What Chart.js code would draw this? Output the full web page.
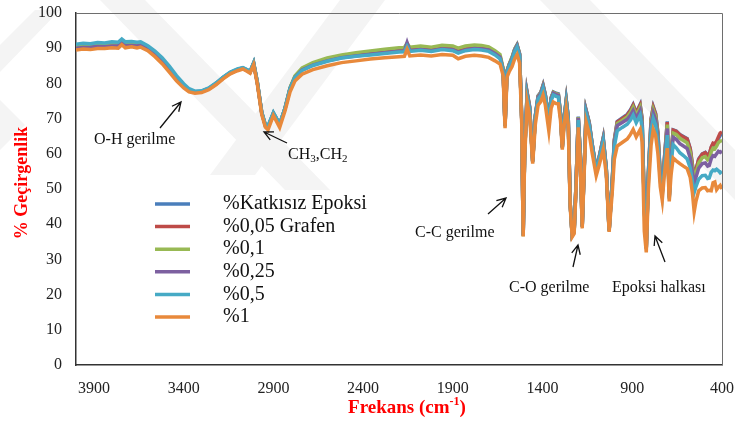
<!DOCTYPE html>
<html>
<head>
<meta charset="utf-8">
<script src="https://cdn.jsdelivr.net/npm/chart.js@4.4.1/dist/chart.umd.min.js"></script>
<style>
  body { margin: 0; background: #fff; }
</style>
</head>
<body>
<canvas id="ftir" width="735" height="423"></canvas>
<script>
// wavenumbers (cm-1)
var wavenumbers = [4000,3960,3920,3880,3840,3800,3765,3745,3725,3690,
  3660,3640,3600,3560,3520,3480,3440,3400,3370,3337,
  3300,3260,3220,3180,3140,3100,3070,3045,3030,3010,
  2990,2965,2945,2930,2900,2865,2835,2807,2780,2740,
  2680,2600,2520,2440,2360,2280,2200,2170,2155,2140,
  2080,2020,1960,1900,1870,1830,1780,1740,1700,1665,
  1637,1620,1609,1598,1586,1570,1555,1542,1528,1516,
  1508,1500,1486,1472,1455,1440,1425,1410,1397,1385,
  1365,1352,1340,1325,1312,1300,1290,1280,1268,1257,
  1246,1235,1224,1213,1201,1190,1179,1168,1157,1140,
  1124,1101,1085,1062,1045,1029,1012,1000,984,956,
  928,910,895,878,856,845,833,822,810,795,
  783,770,757,744,733,722,705,694,684,672,
  655,635,615,594,577,565,555,545,530,510,
  493,480,471,460,450,440,430,420,410,400];

var katkisiz = [90.6,90.9,90.8,91.1,91.0,91.3,91.2,92.1,91.3,91.5,
  91.2,91.4,90.3,88.7,86.8,84.4,81.8,79.5,78.2,77.6,
  77.8,78.6,80.0,81.7,83.1,84.0,84.4,83.8,83.3,85.8,
  80.5,71.8,68.2,67.8,71.6,68.4,73.0,78.6,81.8,83.9,
  85.3,86.5,87.4,87.9,88.4,88.8,89.2,89.3,91.2,89.4,
  89.7,89.4,89.9,89.7,89.0,89.6,90.0,89.9,89.6,88.6,
  87.6,84.0,68.0,83.5,85.3,87.3,89.8,91.0,88.5,70.0,
  37.0,60.0,77.5,73.5,58.0,71.0,76.5,77.5,79.6,77.0,
  70.0,76.0,77.6,77.2,77.0,71.5,62.0,70.0,75.4,70.5,
  46.0,37.0,38.0,52.0,70.6,60.0,39.5,56.0,72.4,69.0,
  63.0,55.5,59.0,64.6,56.0,38.3,52.0,64.0,69.2,70.2,
  71.2,72.5,74.0,71.7,74.0,70.0,45.0,33.5,55.0,70.0,
  73.4,71.5,66.0,54.0,49.2,58.0,69.2,48.0,60.0,66.8,
  66.5,65.5,64.9,64.3,61.5,57.0,53.4,55.5,58.5,60.0,
  60.4,59.6,59.8,61.8,62.8,62.5,63.3,64.3,65.2,65.6];

var grafen005 = [90.2,90.4,90.5,90.6,90.7,90.8,90.8,91.7,90.9,91.0,
  90.8,91.0,89.9,88.3,86.5,84.1,81.6,79.4,78.1,77.5,
  77.7,78.5,79.9,81.6,83.0,83.9,84.3,83.7,83.2,85.7,
  80.4,71.7,68.1,67.6,71.5,68.3,72.9,78.6,81.8,84.0,
  85.4,86.6,87.5,88.1,88.6,89.0,89.4,89.5,91.0,89.6,
  89.9,89.6,90.1,89.9,89.2,89.8,90.2,90.1,89.8,88.8,
  87.7,84.0,68.0,83.5,85.3,87.2,89.6,90.8,88.3,69.9,
  36.9,59.9,77.3,73.3,57.9,70.8,76.3,77.3,79.4,76.8,
  69.8,75.8,77.4,77.0,76.8,71.4,61.9,69.9,75.2,70.4,
  45.9,36.9,37.9,51.9,70.4,59.9,39.4,55.9,72.2,68.8,
  62.9,55.4,58.9,64.4,55.9,38.2,51.9,63.8,69.0,70.0,
  71.0,72.3,73.8,71.5,73.8,69.8,44.9,33.4,54.8,69.8,
  73.2,71.3,65.8,53.9,49.1,57.9,69.0,47.9,59.9,66.7,
  66.4,65.4,64.8,64.2,61.4,56.9,53.3,55.4,58.4,59.9,
  60.3,59.5,59.8,61.9,63.0,62.8,63.6,64.8,65.9,66.2];

var grafen01 = [90.4,90.7,90.6,90.9,90.8,91.0,91.0,91.9,91.1,91.2,
  91.0,91.2,90.1,88.5,86.6,84.2,81.7,79.4,78.1,77.5,
  77.7,78.5,79.9,81.6,83.0,83.9,84.3,83.7,83.2,85.7,
  80.4,71.7,68.1,67.6,71.5,68.3,73.0,78.8,82.1,84.4,
  85.9,87.2,88.1,88.7,89.2,89.7,90.1,90.2,91.4,90.3,
  90.6,90.3,90.8,90.6,90.0,90.6,90.9,90.8,90.4,89.3,
  88.2,84.3,68.1,83.7,85.5,87.5,89.8,90.9,88.4,70.0,
  36.6,59.8,77.2,73.2,57.9,70.8,76.3,77.3,79.3,76.8,
  69.8,75.8,77.4,77.0,76.8,71.4,61.9,69.9,75.2,70.4,
  45.9,36.9,37.9,51.9,70.4,59.9,39.4,55.9,72.2,68.8,
  62.9,55.4,58.9,64.3,55.9,38.2,51.8,63.5,68.6,69.5,
  70.5,71.7,73.2,70.9,73.2,69.3,44.8,33.3,54.5,69.2,
  72.5,70.6,65.2,53.6,48.9,57.5,68.3,47.7,59.4,65.9,
  65.5,64.4,63.8,63.1,60.4,56.1,52.6,54.6,57.4,58.9,
  59.2,58.3,58.6,60.6,61.6,61.4,62.2,63.2,63.6,63.7];

var grafen025 = [90.0,90.2,90.3,90.5,90.4,90.6,90.6,91.5,90.7,90.8,
  90.6,90.8,89.7,88.1,86.3,83.9,81.4,79.2,78.0,77.4,
  77.6,78.4,79.8,81.5,82.9,83.8,84.2,83.6,83.1,85.6,
  80.3,71.6,68.0,67.5,71.4,68.2,72.8,78.5,81.7,83.8,
  85.2,86.4,87.3,87.8,88.3,88.7,89.1,89.2,91.6,89.3,
  89.6,89.3,89.8,89.6,88.9,89.5,89.9,89.8,89.5,88.5,
  87.5,83.9,67.9,83.4,85.2,87.1,89.5,90.7,88.2,69.8,
  36.9,59.8,77.0,73.0,57.8,70.6,76.1,77.1,79.1,76.6,
  69.6,75.6,77.2,76.8,76.6,71.2,61.8,69.7,75.0,70.2,
  45.8,36.8,37.8,51.8,70.2,59.8,39.3,55.8,72.0,68.6,
  62.7,55.3,58.7,64.1,55.8,38.1,51.6,63.1,68.0,68.9,
  69.8,70.9,72.3,70.1,72.3,68.5,44.6,33.2,54.0,68.3,
  71.6,69.7,64.4,53.2,48.7,57.0,67.2,47.5,58.6,64.7,
  64.1,62.9,62.2,61.5,58.8,54.8,51.5,53.3,55.9,57.2,
  57.4,56.5,56.7,58.6,59.5,59.3,60.0,60.7,60.4,60.8];

var grafen05 = [91.1,91.4,91.3,91.6,91.5,91.8,91.7,92.6,91.8,91.9,
  91.7,91.8,90.7,89.2,87.3,84.9,82.2,79.9,78.5,77.8,
  77.9,78.7,80.1,81.8,83.2,84.1,84.5,83.9,83.4,85.9,
  80.6,71.9,68.3,67.9,71.7,68.5,73.0,78.6,81.7,83.7,
  85.1,86.3,87.2,87.7,88.1,88.5,88.9,89.0,90.6,89.1,
  89.4,89.1,89.6,89.3,88.6,89.3,89.6,89.5,89.1,88.1,
  87.0,83.6,67.8,83.1,84.8,86.7,89.1,90.3,87.8,69.5,
  36.8,59.5,76.4,72.5,57.6,70.2,75.6,76.6,78.6,76.1,
  69.2,75.1,76.7,76.3,76.1,70.8,61.6,69.3,74.5,69.8,
  45.6,36.7,37.7,51.5,69.6,59.5,39.2,55.5,71.4,68.1,
  62.3,55.0,58.3,63.5,55.5,38.0,51.0,62.0,66.5,67.5,
  68.4,69.6,71.0,68.8,71.0,67.3,44.2,33.0,53.0,66.8,
  70.0,68.2,63.0,52.4,48.2,56.0,65.3,47.1,57.2,62.6,
  61.7,60.3,59.5,58.5,56.0,52.2,49.0,50.7,52.8,53.8,
  53.9,53.0,53.1,54.8,55.4,55.2,55.6,55.2,54.6,55.0];

var grafen1 = [89.5,89.8,89.6,89.9,89.9,90.1,90.0,91.0,90.1,90.4,
  90.1,90.3,89.3,87.6,85.6,83.2,80.7,78.7,77.6,77.2,
  77.4,78.2,79.6,81.3,82.7,83.6,84.1,83.4,82.9,85.3,
  80.0,71.2,67.6,66.8,70.9,67.5,72.2,77.6,80.7,82.6,
  83.9,85.0,85.9,86.4,86.9,87.3,87.6,87.7,89.7,87.8,
  88.1,87.8,88.2,88.0,87.0,87.7,88.0,87.8,87.4,86.4,
  85.5,82.3,67.3,81.8,83.3,84.8,87.0,88.2,85.8,68.5,
  36.5,58.5,74.7,70.8,57.2,68.5,73.8,74.8,76.7,74.0,
  66.5,73.0,74.7,74.3,74.2,69.5,61.2,67.8,72.8,68.3,
  45.0,36.4,37.3,50.5,67.5,58.3,38.8,54.5,69.0,65.7,
  60.4,53.8,56.7,61.2,54.2,37.8,48.8,58.5,62.2,63.2,
  64.2,65.5,66.9,64.8,66.9,63.5,38.0,32.0,50.0,62.6,
  66.9,65.2,60.0,50.6,46.8,53.5,61.6,46.5,54.0,58.8,
  58.0,57.2,56.5,55.8,53.3,49.0,43.5,46.5,49.5,50.3,
  50.4,49.5,49.6,49.5,51.8,52.0,49.8,50.5,51.0,50.0];

var seriesNames = ['%Katkısız Epoksi', '%0,05 Grafen', '%0,1', '%0,25', '%0,5', '%1'];
var seriesValues = [katkisiz, grafen005, grafen01, grafen025, grafen05, grafen1];
var seriesColors = ['#4a7ebb', '#be4b48', '#98b954', '#7d60a0', '#46aac5', '#e8893b'];
var xTicks = [3900, 3400, 2900, 2400, 1900, 1400, 900, 400];

var serif = "'Liberation Serif', 'Times New Roman', serif";

function arrow(ctx, x1, y1, x2, y2) {
  var a = Math.atan2(y2 - y1, x2 - x1), L = 10, w = 0.45;
  ctx.beginPath();
  ctx.moveTo(x1, y1); ctx.lineTo(x2, y2);
  ctx.moveTo(x2 - L * Math.cos(a - w), y2 - L * Math.sin(a - w));
  ctx.lineTo(x2, y2);
  ctx.lineTo(x2 - L * Math.cos(a + w), y2 - L * Math.sin(a + w));
  ctx.stroke();
}

// faint background watermark bands
var watermark = {
  id: 'watermark',
  beforeDraw: function (chart) {
    var ctx = chart.ctx;
    ctx.save();
    ctx.fillStyle = '#f4f4f4';
    var bands = [
      [[0, 45], [35, 10], [60, 10], [0, 72]],
      [[0, 100], [25, 125], [0, 150]],
      [[100, 0], [145, 0], [330, 190], [285, 190]],
      [[340, 0], [385, 0], [255, 175], [210, 175]],
      [[540, 0], [590, 0], [735, 150], [735, 200]]
    ];
    bands.forEach(function (b) {
      ctx.beginPath();
      ctx.moveTo(b[0][0], b[0][1]);
      for (var i = 1; i < b.length; i++) ctx.lineTo(b[i][0], b[i][1]);
      ctx.closePath();
      ctx.fill();
    });
    ctx.restore();
  }
};

var extras = {
  id: 'extras',
  afterDraw: function (chart) {
    var ctx = chart.ctx, area = chart.chartArea;
    ctx.save();

    // plot border (top / right)
    ctx.strokeStyle = '#6e6e6e';
    ctx.lineWidth = 1;
    ctx.beginPath();
    ctx.moveTo(area.left, area.top + 0.5);
    ctx.lineTo(area.right + 0.5, area.top + 0.5);
    ctx.lineTo(area.right + 0.5, area.bottom);
    ctx.stroke();

    // legend inside plot
    ctx.font = '20px ' + serif;
    ctx.textBaseline = 'middle';
    ctx.textAlign = 'left';
    for (var i = 0; i < seriesNames.length; i++) {
      var y = 204 + i * 22.6;
      ctx.strokeStyle = seriesColors[i];
      ctx.lineWidth = 3.5;
      ctx.beginPath();
      ctx.moveTo(155, y); ctx.lineTo(190, y);
      ctx.stroke();
      ctx.fillStyle = '#111';
      ctx.fillText(seriesNames[i], 223, y);
    }

    // annotations
    ctx.font = '16px ' + serif;
    ctx.fillStyle = '#111';
    ctx.fillText('O-H gerilme', 94, 140);
    ctx.fillText('C-C gerilme', 415, 233);
    ctx.fillText('C-O gerilme', 509, 288);
    ctx.fillText('Epoksi halkası', 612, 288);

    // CH3,CH2 with subscripts
    var x = 288, yb = 155;
    ctx.fillText('CH', x, yb); x += ctx.measureText('CH').width;
    ctx.font = '11px ' + serif;
    ctx.fillText('3', x, yb + 4); x += ctx.measureText('3').width;
    ctx.font = '16px ' + serif;
    ctx.fillText(',CH', x, yb); x += ctx.measureText(',CH').width;
    ctx.font = '11px ' + serif;
    ctx.fillText('2', x, yb + 4);

    ctx.strokeStyle = '#111';
    ctx.lineWidth = 1.3;
    arrow(ctx, 160, 128, 181, 102);
    arrow(ctx, 287, 143, 264, 132);
    arrow(ctx, 488, 214, 506, 198);
    arrow(ctx, 573, 267, 578, 245);
    arrow(ctx, 665, 262, 655, 236);

    // axis titles
    ctx.fillStyle = '#ff0000';
    var t1 = 'Frekans (cm', t2 = '-1', t3 = ')';
    ctx.font = 'bold 19px ' + serif;
    var w1 = ctx.measureText(t1).width, w3 = ctx.measureText(t3).width;
    ctx.font = 'bold 12px ' + serif;
    var w2 = ctx.measureText(t2).width;
    var sx = 407 - (w1 + w2 + w3) / 2, sy = 408;
    ctx.font = 'bold 19px ' + serif;
    ctx.fillText(t1, sx, sy);
    ctx.font = 'bold 12px ' + serif;
    ctx.fillText(t2, sx + w1, sy - 6);
    ctx.font = 'bold 19px ' + serif;
    ctx.fillText(t3, sx + w1 + w2, sy);

    ctx.font = 'bold 18px ' + serif;
    ctx.translate(22, 183);
    ctx.rotate(-Math.PI / 2);
    ctx.textAlign = 'center';
    ctx.fillText('% Geçirgenlik', 0, 0);
    ctx.restore();
  }
};

var datasets = seriesNames.map(function (name, k) {
  return {
    label: name,
    data: wavenumbers.map(function (w, i) { return { x: w, y: seriesValues[k][i] }; }),
    borderColor: seriesColors[k],
    borderWidth: 3.5,
    pointRadius: 0,
    tension: 0,
    fill: false,
    order: seriesNames.length - 1 - k
  };
});

new Chart(document.getElementById('ftir'), {
  type: 'line',
  data: { datasets: datasets },
  options: {
    responsive: false,
    animation: false,
    layout: { padding: { top: 13, right: 13, left: 0, bottom: 0 } },
    plugins: { legend: { display: false }, tooltip: { enabled: false } },
    scales: {
      x: {
        type: 'linear',
        reverse: true,
        min: 400,
        max: 4000,
        afterBuildTicks: function (axis) {
          axis.ticks = xTicks.map(function (v) { return { value: v }; });
        },
        afterFit: function (scale) {
          scale.height = 58;
          scale.paddingLeft = 0;
          scale.paddingRight = 0;
        },
        grid: { display: false, drawTicks: false },
        border: { display: true, color: '#333', width: 1.5 },
        ticks: {
          color: '#222', padding: 14, maxRotation: 0,
          font: { family: serif, size: 16 },
          callback: function (v) { return String(v); }
        }
      },
      y: {
        min: 0,
        max: 100,
        ticks: {
          stepSize: 10, color: '#222', padding: 14,
          font: { family: serif, size: 16 },
          callback: function (v) { return String(v); }
        },
        afterFit: function (scale) {
          scale.width = 76;
          scale.paddingTop = 0;
          scale.paddingBottom = 0;
        },
        grid: { display: false, drawTicks: false },
        border: { display: true, color: '#333', width: 1.5 }
      }
    }
  },
  plugins: [watermark, extras]
});
</script>
</body>
</html>
